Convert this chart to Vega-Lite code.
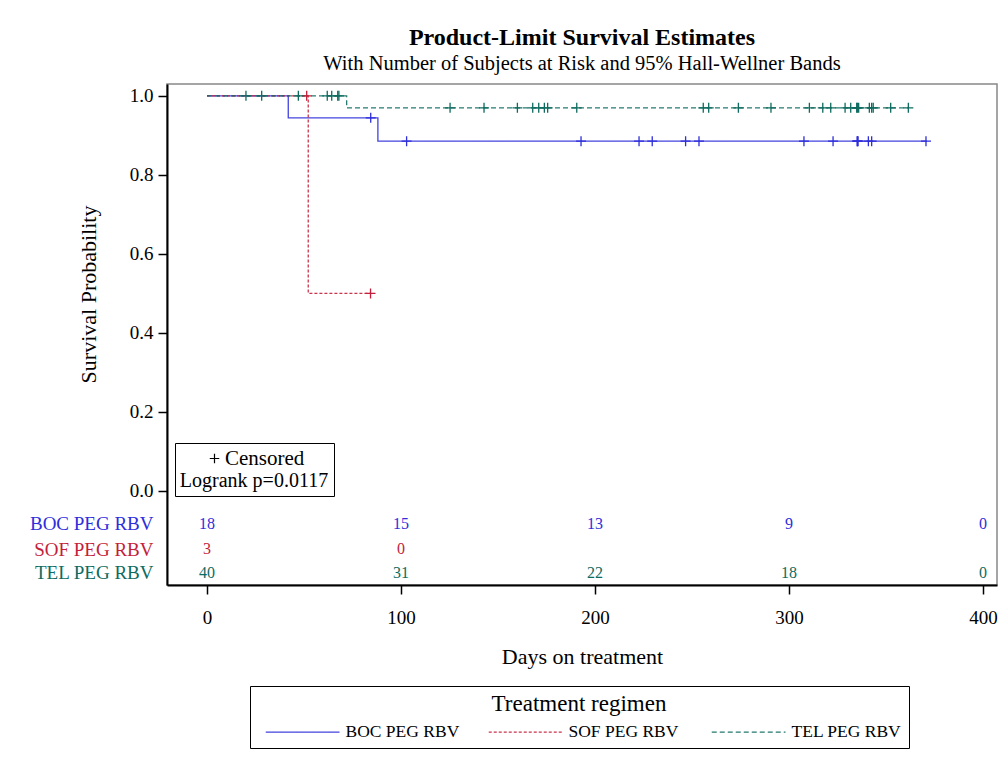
{
  "$schema": "https://vega.github.io/schema/vega-lite/v6.json",
  "width": 830,
  "height": 501,
  "autosize": "none",
  "padding": {"left": 167, "top": 84, "right": 6, "bottom": 172},
  "background": "white",
  "config": {
    "font": "Liberation Serif",
    "view": {"stroke": "#888888", "strokeWidth": 1.5}
  },
  "title": {
    "text": "Product-Limit Survival Estimates",
    "subtitle": "With Number of Subjects at Risk and 95% Hall-Wellner Bands",
    "font": "Liberation Serif",
    "subtitleFont": "Liberation Serif",
    "fontSize": 24,
    "fontWeight": "bold",
    "subtitleFontSize": 20.5,
    "anchor": "middle",
    "offset": 10,
    "color": "black",
    "subtitleColor": "black",
    "subtitlePadding": 4
  },
  "datasets": {
    "steps": [
      {"group": "BOC PEG RBV", "day": 0, "surv": 1},
      {"group": "BOC PEG RBV", "day": 41.9, "surv": 0.9444},
      {"group": "BOC PEG RBV", "day": 88.1, "surv": 0.8854},
      {"group": "BOC PEG RBV", "day": 371, "surv": 0.8854},
      {"group": "SOF PEG RBV", "day": 0, "surv": 1},
      {"group": "SOF PEG RBV", "day": 52.2, "surv": 0.5},
      {"group": "SOF PEG RBV", "day": 84.3, "surv": 0.5},
      {"group": "TEL PEG RBV", "day": 0, "surv": 1},
      {"group": "TEL PEG RBV", "day": 72, "surv": 0.9697},
      {"group": "TEL PEG RBV", "day": 361.5, "surv": 0.9697}
    ],
    "censored": [
      {"group": "BOC PEG RBV", "day": 84.4, "surv": 0.9444},
      {"group": "BOC PEG RBV", "day": 102.9, "surv": 0.8854},
      {"group": "BOC PEG RBV", "day": 192.8, "surv": 0.8854},
      {"group": "BOC PEG RBV", "day": 222.7, "surv": 0.8854},
      {"group": "BOC PEG RBV", "day": 229.5, "surv": 0.8854},
      {"group": "BOC PEG RBV", "day": 246.7, "surv": 0.8854},
      {"group": "BOC PEG RBV", "day": 253.6, "surv": 0.8854},
      {"group": "BOC PEG RBV", "day": 307.7, "surv": 0.8854},
      {"group": "BOC PEG RBV", "day": 322.7, "surv": 0.8854},
      {"group": "BOC PEG RBV", "day": 335.2, "surv": 0.8854},
      {"group": "BOC PEG RBV", "day": 335.2, "surv": 0.8854},
      {"group": "BOC PEG RBV", "day": 335.6, "surv": 0.8854},
      {"group": "BOC PEG RBV", "day": 340.9, "surv": 0.8854},
      {"group": "BOC PEG RBV", "day": 342.6, "surv": 0.8854},
      {"group": "BOC PEG RBV", "day": 370.6, "surv": 0.8854},
      {"group": "SOF PEG RBV", "day": 51.4, "surv": 1},
      {"group": "SOF PEG RBV", "day": 84.3, "surv": 0.5},
      {"group": "TEL PEG RBV", "day": 20.1, "surv": 1},
      {"group": "TEL PEG RBV", "day": 28.2, "surv": 1},
      {"group": "TEL PEG RBV", "day": 47.1, "surv": 1},
      {"group": "TEL PEG RBV", "day": 62, "surv": 1},
      {"group": "TEL PEG RBV", "day": 64.3, "surv": 1},
      {"group": "TEL PEG RBV", "day": 67.4, "surv": 1},
      {"group": "TEL PEG RBV", "day": 68, "surv": 1},
      {"group": "TEL PEG RBV", "day": 125.3, "surv": 0.9697},
      {"group": "TEL PEG RBV", "day": 142.8, "surv": 0.9697},
      {"group": "TEL PEG RBV", "day": 160, "surv": 0.9697},
      {"group": "TEL PEG RBV", "day": 167.9, "surv": 0.9697},
      {"group": "TEL PEG RBV", "day": 171, "surv": 0.9697},
      {"group": "TEL PEG RBV", "day": 173.9, "surv": 0.9697},
      {"group": "TEL PEG RBV", "day": 175.6, "surv": 0.9697},
      {"group": "TEL PEG RBV", "day": 190.6, "surv": 0.9697},
      {"group": "TEL PEG RBV", "day": 255.8, "surv": 0.9697},
      {"group": "TEL PEG RBV", "day": 258.6, "surv": 0.9697},
      {"group": "TEL PEG RBV", "day": 273.9, "surv": 0.9697},
      {"group": "TEL PEG RBV", "day": 290.7, "surv": 0.9697},
      {"group": "TEL PEG RBV", "day": 310.5, "surv": 0.9697},
      {"group": "TEL PEG RBV", "day": 317.4, "surv": 0.9697},
      {"group": "TEL PEG RBV", "day": 321.5, "surv": 0.9697},
      {"group": "TEL PEG RBV", "day": 328.9, "surv": 0.9697},
      {"group": "TEL PEG RBV", "day": 331.8, "surv": 0.9697},
      {"group": "TEL PEG RBV", "day": 334.9, "surv": 0.9697},
      {"group": "TEL PEG RBV", "day": 335.2, "surv": 0.9697},
      {"group": "TEL PEG RBV", "day": 335.9, "surv": 0.9697},
      {"group": "TEL PEG RBV", "day": 341.4, "surv": 0.9697},
      {"group": "TEL PEG RBV", "day": 342.6, "surv": 0.9697},
      {"group": "TEL PEG RBV", "day": 343.4, "surv": 0.9697},
      {"group": "TEL PEG RBV", "day": 352.4, "surv": 0.9697},
      {"group": "TEL PEG RBV", "day": 361.5, "surv": 0.9697}
    ],
    "risk": [
      {"group": "BOC PEG RBV", "day": 0, "n": 18},
      {"group": "BOC PEG RBV", "day": 100, "n": 15},
      {"group": "BOC PEG RBV", "day": 200, "n": 13},
      {"group": "BOC PEG RBV", "day": 300, "n": 9},
      {"group": "BOC PEG RBV", "day": 400, "n": 0},
      {"group": "SOF PEG RBV", "day": 0, "n": 3},
      {"group": "SOF PEG RBV", "day": 100, "n": 0},
      {"group": "TEL PEG RBV", "day": 0, "n": 40},
      {"group": "TEL PEG RBV", "day": 100, "n": 31},
      {"group": "TEL PEG RBV", "day": 200, "n": 22},
      {"group": "TEL PEG RBV", "day": 300, "n": 18},
      {"group": "TEL PEG RBV", "day": 400, "n": 0}
    ]
  },
  "layer": [
    {
      "data": {"name": "steps"},
      "mark": {"type": "line", "interpolate": "step-after", "strokeWidth": 1.3, "opacity": 0.9},
      "encoding": {
        "x": {
          "field": "day", "type": "quantitative",
          "scale": {"domain": [-20.6, 407.2], "nice": false, "zero": false},
          "axis": {
            "title": "Days on treatment",
            "values": [0, 100, 200, 300, 400],
            "grid": false,
            "labelFlush": false,
            "tickSize": 9, "tickColor": "black", "tickWidth": 1.5,
            "domainColor": "black", "domainWidth": 2,
            "labelFontSize": 19, "labelColor": "black", "labelPadding": 14,
            "titleFontSize": 22, "titleFontWeight": "normal", "titleColor": "black", "titlePadding": 19
          }
        },
        "y": {
          "field": "surv", "type": "quantitative",
          "scale": {"domain": [-0.238, 1.03], "nice": false, "zero": false},
          "axis": {
            "title": "Survival Probability",
            "values": [-0.2076, -0.1469, -0.0836, 0, 0.2, 0.4, 0.6, 0.8, 1],
            "labelExpr": "datum.value < -0.05 ? (datum.value > -0.1 ? 'BOC PEG RBV' : (datum.value > -0.18 ? 'SOF PEG RBV' : 'TEL PEG RBV')) : format(datum.value, '.1f')",
            "labelColor": {"condition": [
              {"test": "datum.value < -0.05 && datum.value > -0.1", "value": "#2E2EDB"},
              {"test": "datum.value < -0.1 && datum.value > -0.18", "value": "#C41E3A"},
              {"test": "datum.value < -0.18", "value": "#0E6B5F"}
            ], "value": "black"},
            "tickOpacity": {"condition": {"test": "datum.value < -0.01", "value": 0}, "value": 1},
            "grid": false,
            "labelOverlap": false,
            "labelFlush": false,
            "tickSize": 9, "tickColor": "black", "tickWidth": 1.5,
            "domainColor": "black", "domainWidth": 2,
            "labelFontSize": 19, "labelPadding": 5,
            "titleFontSize": 22, "titleFontWeight": "normal", "titleColor": "black",
            "titleX": -79, "titleY": 210, "titleBaseline": "middle"
          }
        },
        "color": {
          "field": "group", "type": "nominal",
          "scale": {"domain": ["BOC PEG RBV", "SOF PEG RBV", "TEL PEG RBV"], "range": ["#2E2EDB", "#C41E3A", "#0E6B5F"]},
          "legend": {
            "title": "Treatment regimen",
            "orient": "none", "legendX": 83, "legendY": 602,
            "direction": "horizontal",
            "gridAlign": "all",
            "titleAnchor": "middle", "titleFontSize": 23, "titleFontWeight": "normal", "titleColor": "black", "titlePadding": 7,
            "labelFontSize": 17.5, "labelColor": "black", "labelOffset": 71, "labelLimit": 300,
            "symbolType": "M0,0H16", "symbolSize": 85, "symbolStrokeWidth": 1.3,
            "strokeColor": "black", "padding": 7, "columnPadding": 20
          }
        },
        "strokeDash": {
          "field": "group", "type": "nominal",
          "scale": {"domain": ["BOC PEG RBV", "SOF PEG RBV", "TEL PEG RBV"], "range": [[1, 0], [3, 2], [5, 3]]},
          "legend": {
            "title": "Treatment regimen",
            "orient": "none", "legendX": 83, "legendY": 602,
            "direction": "horizontal",
            "gridAlign": "all",
            "titleAnchor": "middle", "titleFontSize": 23, "titleFontWeight": "normal", "titleColor": "black", "titlePadding": 7,
            "labelFontSize": 17.5, "labelColor": "black", "labelOffset": 71, "labelLimit": 300,
            "symbolType": "M0,0H16", "symbolSize": 85, "symbolStrokeWidth": 1.3,
            "strokeColor": "black", "padding": 7, "columnPadding": 20
          }
        }
      }
    },
    {
      "data": {"name": "censored"},
      "mark": {"type": "point", "filled": false, "strokeWidth": 1.3, "size": 100, "opacity": 1},
      "encoding": {
        "x": {"field": "day", "type": "quantitative"},
        "y": {
          "field": "surv", "type": "quantitative",
          "scale": {"domain": [-0.238, 1.03], "nice": false, "zero": false},
          "axis": null
        },
        "stroke": {
          "field": "group", "type": "nominal",
          "scale": {"domain": ["BOC PEG RBV", "SOF PEG RBV", "TEL PEG RBV"], "range": ["#2E2EDB", "#C41E3A", "#0E6B5F"]},
          "legend": null
        },
        "shape": {
          "datum": "Censored",
          "scale": {"range": ["M-1,0H1M0,-1V1"]},
          "legend": {
            "title": "Logrank p=0.0117",
            "titleOrient": "bottom",
            "titleAnchor": "middle",
            "orient": "none", "legendX": 8, "legendY": 359,
            "strokeColor": "black", "padding": 5,
            "labelFontSize": 21, "labelColor": "black",
            "titleFontSize": 20, "titleFontWeight": "normal", "titleColor": "black", "titlePadding": 2,
            "symbolStrokeColor": "black", "symbolFillColor": "transparent", "symbolSize": 90, "symbolStrokeWidth": 1.2,
            "symbolOffset": 0, "labelOffset": 0
          }
        }
      }
    },
    {
      "data": {"name": "risk"},
      "mark": {"type": "text", "fontSize": 16, "baseline": "middle", "align": "center"},
      "encoding": {
        "x": {"field": "day", "type": "quantitative"},
        "y": {
          "field": "group", "type": "nominal",
          "scale": {"type": "point", "domain": ["BOC PEG RBV", "SOF PEG RBV", "TEL PEG RBV"], "range": [440, 489], "padding": 0},
          "axis": null
        },
        "text": {"field": "n", "type": "quantitative"},
        "fill": {
          "field": "group", "type": "nominal",
          "scale": {"domain": ["BOC PEG RBV", "SOF PEG RBV", "TEL PEG RBV"], "range": ["#2E2EDB", "#C41E3A", "#0E6B5F"]},
          "legend": null
        }
      }
    }
  ],
  "resolve": {"scale": {"y": "independent"}}
}
